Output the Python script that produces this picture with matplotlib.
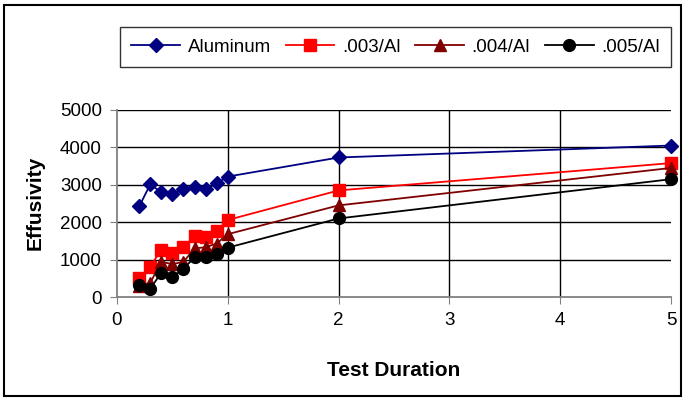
import matplotlib.pyplot as plt
from matplotlib.patches import Rectangle

plt.rcParams['font.family'] = ['Liberation Sans', 'DejaVu Sans']

# Data
duration = [0.2, 0.3, 0.4, 0.5, 0.6, 0.7, 0.8, 0.9, 1.0, 2, 5]
aluminum = [2420, 3010, 2800, 2750, 2880, 2950, 2880, 3040, 3220, 3730, 4050]
al_003 = [500, 810, 1270, 1170, 1330, 1630, 1600, 1760, 2060, 2850, 3580]
al_004 = [300, 380, 940, 880, 940, 1300, 1330, 1430, 1680, 2450, 3450]
al_005 = [320, 220, 650, 530, 760, 1060, 1080, 1150, 1320, 2100, 3150]

fig = plt.figure(figsize=(6.84, 4.01), dpi=100)
ax = fig.add_axes([117 / 684, 1 - 297 / 401, (671 - 117) / 684, (297 - 110) / 401])

ax.plot(duration, aluminum, color='#000080', marker='D', markersize=7.5, lw=1.3, label='Aluminum', clip_on=False)
ax.plot(duration, al_003, color='#ff0000', marker='s', markersize=8.5, lw=1.3, label='.003/Al', clip_on=False)
ax.plot(duration, al_004, color='#800000', marker='^', markersize=9, lw=1.3, label='.004/Al', clip_on=False)
ax.plot(duration, al_005, color='black', marker='o', markersize=8.5, lw=1.3, label='.005/Al', clip_on=False)

ax.set_xlim(0, 5)
ax.set_ylim(0, 5000)
ax.set_xticks(range(0, 6))
ax.set_yticks(range(0, 5001, 1000))
ax.tick_params(labelsize=13.5, direction='out', length=5, color='#808080', pad=6)

# Gridlines: horizontal at every 1000, vertical at 1-4
for y in range(1000, 5001, 1000):
    ax.axhline(y, color='black', lw=1, zorder=0.5)
for x in range(1, 5):
    ax.axvline(x, color='black', lw=1, zorder=0.5)

for side in ['top', 'right']:
    ax.spines[side].set_visible(False)
for side in ['left', 'bottom']:
    ax.spines[side].set_color('#808080')
    ax.spines[side].set_linewidth(1.3)

fig.text(394 / 684, 1 - 370 / 401, 'Test Duration', fontsize=15, fontweight='bold', ha='center', va='center')
fig.text(35 / 684, 1 - 203 / 401, 'Effusivity', fontsize=15, fontweight='bold', ha='center', va='center',
         rotation=90)

leg = fig.legend(loc='lower left', bbox_to_anchor=(120 / 684, 1 - 67 / 401, 551 / 684, 41 / 401),
                 mode='expand', ncol=4, fontsize=13.5, handlelength=2.6, handletextpad=0.4,
                 columnspacing=0.6, borderaxespad=0, borderpad=0.6, fancybox=False, frameon=True)
leg.get_frame().set_edgecolor('black')
leg.get_frame().set_linewidth(1)

# Outer chart border
fig.patches.append(Rectangle((4 / 684, 5 / 401), 677 / 684, 391 / 401, transform=fig.transFigure,
                             fill=False, edgecolor='black', lw=1.5))

fig.savefig('out.png', dpi=100)
